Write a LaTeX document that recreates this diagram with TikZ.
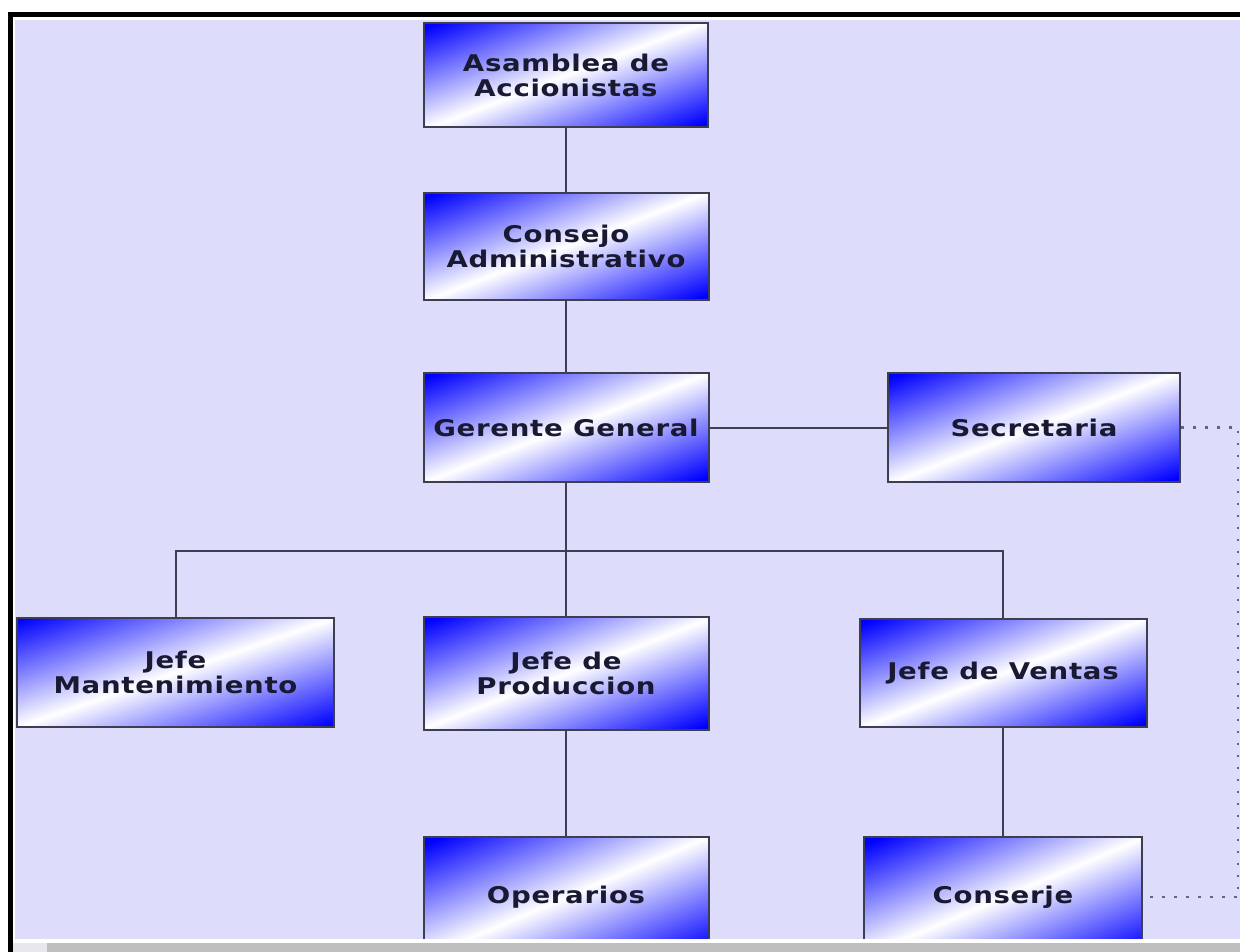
\documentclass[tikz,border=0pt]{standalone}
\usepackage{fontspec}
\newfontfamily\boxfont{DejaVu Sans}[FakeStretch=1.2,LetterSpace=3]
\definecolor{bgcol}{RGB}{221,221,251}
\definecolor{boxblue}{RGB}{0,0,255}
\definecolor{edgecol}{RGB}{62,62,82}
\definecolor{txtcol}{RGB}{25,25,50}
\definecolor{dotcol}{RGB}{100,100,125}
\definecolor{barcol}{RGB}{190,190,190}
\definecolor{cornercol}{RGB}{232,232,236}
% blue - white - blue band, running corner to corner once rotated
\pgfdeclareverticalshading{boxshade}{100bp}{color(0bp)=(boxblue); color(19bp)=(boxblue); color(50bp)=(white); color(81bp)=(boxblue); color(100bp)=(boxblue)}
\tikzset{
  orgbox/.style={draw=edgecol, line width=2pt, shade, shading=boxshade,
    shading angle=21, inner sep=0pt, align=center,
    font=\boxfont\bfseries\fontsize{23}{25}\selectfont, text=txtcol},
  link/.style={draw=edgecol, line width=2pt},
  dotlink/.style={draw=dotcol, line width=2.5pt, dash pattern=on 2.5pt off 9.5pt}
}
\begin{document}
\begin{tikzpicture}[x=1pt,y=-1pt]
\useasboundingbox (0,0) rectangle (1240,952);
% window frame and canvas
\fill[white] (0,0) rectangle (1240,952);
\fill[black] (8,12) rectangle (1240,952);
\fill[white] (13,17) rectangle (1240,952);
\fill[bgcol] (15,20) rectangle (1240,952);

% boxes
\node[orgbox, minimum width=284pt, minimum height=104pt] (asam) at (566,75) {Asamblea de\\Accionistas};
\node[orgbox, minimum width=285pt, minimum height=107pt] (cons) at (566,246.5) {Consejo\\Administrativo};
\node[orgbox, minimum width=285pt, minimum height=109pt] (ger) at (566,427.5) {Gerente General};
\node[orgbox, minimum width=292pt, minimum height=109pt] (secr) at (1034,427.5) {Secretaria};
\node[orgbox, minimum width=317pt, minimum height=109pt, shading angle=19] (jman) at (175.5,672.5) {Jefe\\Mantenimiento};
\node[orgbox, minimum width=285pt, minimum height=113pt] (jprod) at (566,673.5) {Jefe de\\Produccion};
\node[orgbox, minimum width=287pt, minimum height=108pt] (jvent) at (1003,673) {Jefe de Ventas};
\node[orgbox, minimum width=285pt, minimum height=120pt, shading angle=23] (oper) at (566,897) {Operarios};
\node[orgbox, minimum width=278pt, minimum height=120pt, shading angle=23] (conj) at (1003,897) {Conserje};

% solid connectors
\coordinate (bus) at (566,551);
\coordinate (rail) at (1238,0);
\draw[link] (asam.south) -- (cons.north);
\draw[link] (cons.south) -- (ger.north);
\draw[link] (ger.east) -- (secr.west);
\draw[link] (ger.south) -- (jprod.north);
\draw[link] (bus) -| (jman.north);
\draw[link] (bus) -| (jvent.north);
\draw[link] (jprod.south) -- (oper.north);
\draw[link] (jvent.south) -- (conj.north);

% dotted connector
\draw[dotlink] (secr.east) -- (secr.east -| rail) -- (conj.east -| rail) -- (conj.east);

% bottom bar
\fill[white] (13,939) rectangle (1240,952);
\fill[cornercol] (13,943) rectangle (47,952);
\fill[barcol] (47,943) rectangle (1240,952);
\end{tikzpicture}
\end{document}
